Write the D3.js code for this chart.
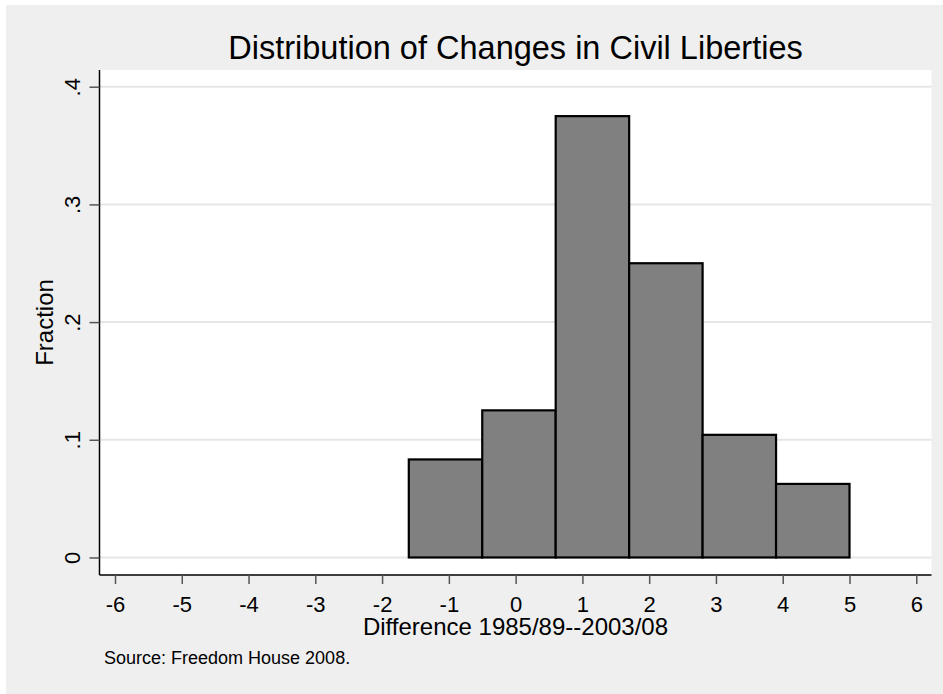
<!DOCTYPE html>
<html><head><meta charset="utf-8">
<script src="https://cdn.jsdelivr.net/npm/d3@7/dist/d3.min.js"></script>
<style>body{margin:0;background:#fff}svg{display:block;font-family:Arial,"Liberation Sans",sans-serif}</style>
</head><body><svg id="c" width="943" height="694"></svg>
<script>
const binEdges = [-1.6, -0.5, 0.6, 1.7, 2.8, 3.9, 5.0];
const fractions = [0.0833, 0.125, 0.375, 0.25, 0.1042, 0.0625];
const xTicks = [-6,-5,-4,-3,-2,-1,0,1,2,3,4,5,6];
const yTicks = [0, 0.1, 0.2, 0.3, 0.4];
const yTickLabels = ["0", ".1", ".2", ".3", ".4"];
const titleText = "Distribution of Changes in Civil Liberties";
const xTitle = "Difference 1985/89--2003/08";
const yTitle = "Fraction";
const noteText = "Source: Freedom House 2008.";

const svg = d3.select("#c");
const L = 99.5, R = 931.5, T = 70, B = 575;
svg.append("rect").attr("x",6).attr("y",5).attr("width",937).attr("height",689).attr("fill","#efefef");
svg.append("rect").attr("x",L).attr("y",T).attr("width",R-L).attr("height",B-T).attr("fill","#fff");

const x = d3.scaleLinear().domain([-6.232, 6.228]).range([L, R]);
const y = d3.scaleLinear().domain([-0.0149, 0.4142]).range([B, T]);

// gridlines
svg.append("g").selectAll("line").data(yTicks).join("line")
  .attr("x1", L).attr("x2", R).attr("y1", d=>y(d)).attr("y2", d=>y(d))
  .attr("stroke","#e6e6e6").attr("stroke-width",2);

// bars
const bins = fractions.map((f,i)=>({x0:binEdges[i], x1:binEdges[i+1], f}));
svg.append("g").selectAll("rect").data(bins).join("rect")
  .attr("x", d=>x(d.x0)).attr("width", d=>x(d.x1)-x(d.x0))
  .attr("y", d=>y(d.f)).attr("height", d=>y(0)-y(d.f))
  .attr("fill","#808080").attr("stroke","#000").attr("stroke-width",2.2);

// x axis
const xa = svg.append("g").attr("transform",`translate(0,${B})`)
  .call(d3.axisBottom(x).tickValues(xTicks).tickFormat(d3.format("d")).tickSize(9).tickPadding(6).tickSizeOuter(0));
xa.select(".domain").attr("stroke","#000").attr("stroke-width",1.5).attr("d",`M${L},0H${R}`);
xa.selectAll(".tick line").attr("stroke","#555").attr("stroke-width",1.5);
xa.selectAll(".tick text").attr("font-size",22).attr("fill","#000").attr("font-family","Arial, Liberation Sans, sans-serif")
  .attr("y",36.5).attr("dy",0)
  .text(d=>d3.format("d")(d).replace("−","-"));

// y axis
const ya = svg.append("g").attr("transform",`translate(${L},0)`)
  .call(d3.axisLeft(y).tickValues(yTicks).tickFormat((d,i)=>yTickLabels[i]).tickSize(10).tickSizeOuter(0));
ya.select(".domain").attr("stroke","#000").attr("stroke-width",1.5).attr("d",`M0,${T}V${B}`);
ya.selectAll(".tick line").attr("stroke","#555").attr("stroke-width",1.5);
ya.selectAll(".tick text").attr("font-size",22).attr("fill","#000").attr("font-family","Arial, Liberation Sans, sans-serif")
  .attr("x",0).attr("dy",0).attr("y",0).attr("text-anchor","middle")
  .attr("transform","translate(-19.5,0) rotate(-90)");

// titles
svg.append("text").attr("x",(L+R)/2).attr("y",59).attr("text-anchor","middle")
  .attr("font-size",32.5).attr("fill","#000").text(titleText);
svg.append("text").attr("x",(L+R)/2).attr("y",635).attr("text-anchor","middle")
  .attr("font-size",24).attr("fill","#000").text(xTitle);
svg.append("text").attr("transform",`translate(53,${(T+B)/2}) rotate(-90)`).attr("text-anchor","middle")
  .attr("font-size",24).attr("fill","#000").text(yTitle);
svg.append("text").attr("x",104).attr("y",664).attr("font-size",18).attr("fill","#000").text(noteText);
</script></body></html>
